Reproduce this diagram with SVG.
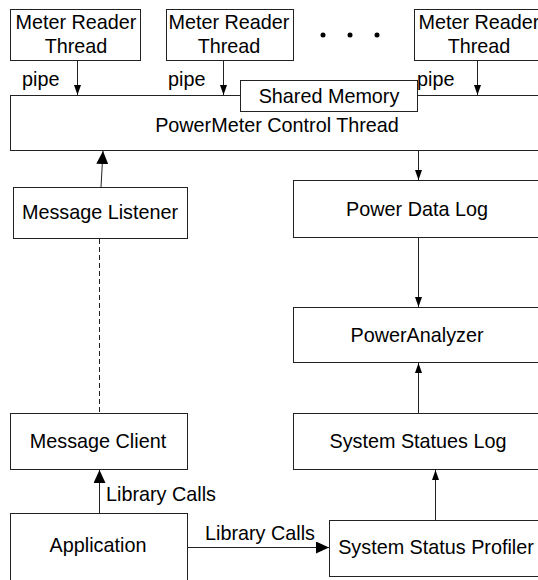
<svg xmlns="http://www.w3.org/2000/svg" width="538" height="580" viewBox="0 0 538 580">
<defs>
<style>
.box{fill:#fff;stroke:#222;stroke-width:1}
.t{font-family:"Liberation Sans",Arial,sans-serif;font-size:19.8px;fill:#000}
.m{text-anchor:middle}
.c{stroke:#222;stroke-width:1;fill:none}
</style>
<marker id="a" markerWidth="10" markerHeight="7" refX="10" refY="3.5" orient="auto" markerUnits="userSpaceOnUse">
<path d="M0,0 L10,3.5 L0,7 Z" fill="#000"/>
</marker>
<marker id="b" markerWidth="13" markerHeight="12" refX="13" refY="6" orient="auto" markerUnits="userSpaceOnUse">
<path d="M0,0 L13,6 L0,12 Z" fill="#000"/>
</marker>
</defs>
<rect width="538" height="580" fill="#fff"/>

<g id="control">
<rect class="box" x="10.5" y="95.5" width="540" height="55"/>
<text class="t m" x="277" y="132">PowerMeter Control Thread</text>
</g>
<g id="meter1">
<rect class="box" x="10.5" y="9.5" width="130" height="51"/>
<text class="t m" x="76" y="29">Meter Reader</text>
<text class="t m" x="76" y="53">Thread</text>
</g>
<g id="meter2">
<rect class="box" x="166.5" y="9.5" width="127" height="51"/>
<text class="t m" x="229" y="29">Meter Reader</text>
<text class="t m" x="229" y="53">Thread</text>
</g>
<g id="dots" fill="#000">
<circle cx="323" cy="35" r="2.5"/>
<circle cx="350" cy="35" r="2.5"/>
<circle cx="377" cy="35" r="2.5"/>
</g>
<g id="meter3">
<rect class="box" x="414.5" y="9.5" width="130" height="51"/>
<text class="t m" x="479" y="29">Meter Reader</text>
<text class="t m" x="479" y="53">Thread</text>
</g>
<g id="shared">
<rect class="box" x="240.5" y="80.5" width="177" height="31"/>
<text class="t m" x="329" y="103">Shared Memory</text>
</g>
<g id="listener">
<rect class="box" x="13.5" y="187.5" width="174" height="51"/>
<text class="t m" x="100" y="219">Message Listener</text>
</g>
<g id="powerlog">
<rect class="box" x="293.5" y="180.5" width="250" height="57"/>
<text class="t m" x="417" y="216">Power Data Log</text>
</g>
<g id="analyzer">
<rect class="box" x="293.5" y="307.5" width="250" height="55"/>
<text class="t m" x="417" y="342">PowerAnalyzer</text>
</g>
<g id="statuslog">
<rect class="box" x="293.5" y="413.5" width="250" height="56"/>
<text class="t m" x="418" y="448">System Statues Log</text>
</g>
<g id="client">
<rect class="box" x="10.5" y="413.5" width="177" height="56"/>
<text class="t m" x="98" y="448">Message Client</text>
</g>
<g id="application">
<rect class="box" x="10.5" y="513.5" width="177" height="72"/>
<text class="t m" x="98" y="552">Application</text>
</g>
<g id="profiler">
<rect class="box" x="329.5" y="520.5" width="215" height="56"/>
<text class="t m" x="436" y="554">System Status Profiler</text>
</g>

<g id="connectors">
<line class="c" x1="77.5" y1="61" x2="77.5" y2="95" marker-end="url(#a)"/>
<line class="c" x1="223.5" y1="61" x2="223.5" y2="95" marker-end="url(#a)"/>
<line class="c" x1="477.5" y1="61" x2="477.5" y2="95" marker-end="url(#a)"/>
<text class="t" x="22" y="86">pipe</text>
<text class="t" x="168" y="86">pipe</text>
<text class="t" x="417" y="86">pipe</text>
<line class="c" x1="101" y1="187" x2="103" y2="151" marker-end="url(#b)"/>
<line class="c" x1="418.5" y1="151" x2="418.5" y2="180" marker-end="url(#a)"/>
<line class="c" x1="418.5" y1="238" x2="418.5" y2="307" marker-end="url(#a)"/>
<line class="c" x1="418.5" y1="413" x2="418.5" y2="363" marker-end="url(#a)"/>
<line class="c" x1="435.5" y1="520" x2="435.5" y2="470" marker-end="url(#a)"/>
<line class="c" x1="99.5" y1="239" x2="99.5" y2="413" stroke-dasharray="5,3"/>
<line class="c" x1="99.5" y1="513" x2="99.5" y2="470" marker-end="url(#b)"/>
<text class="t" x="106" y="501">Library Calls</text>
<line class="c" x1="188" y1="547.5" x2="329" y2="547.5" marker-end="url(#b)"/>
<text class="t" x="205" y="540">Library Calls</text>
</g>
</svg>
